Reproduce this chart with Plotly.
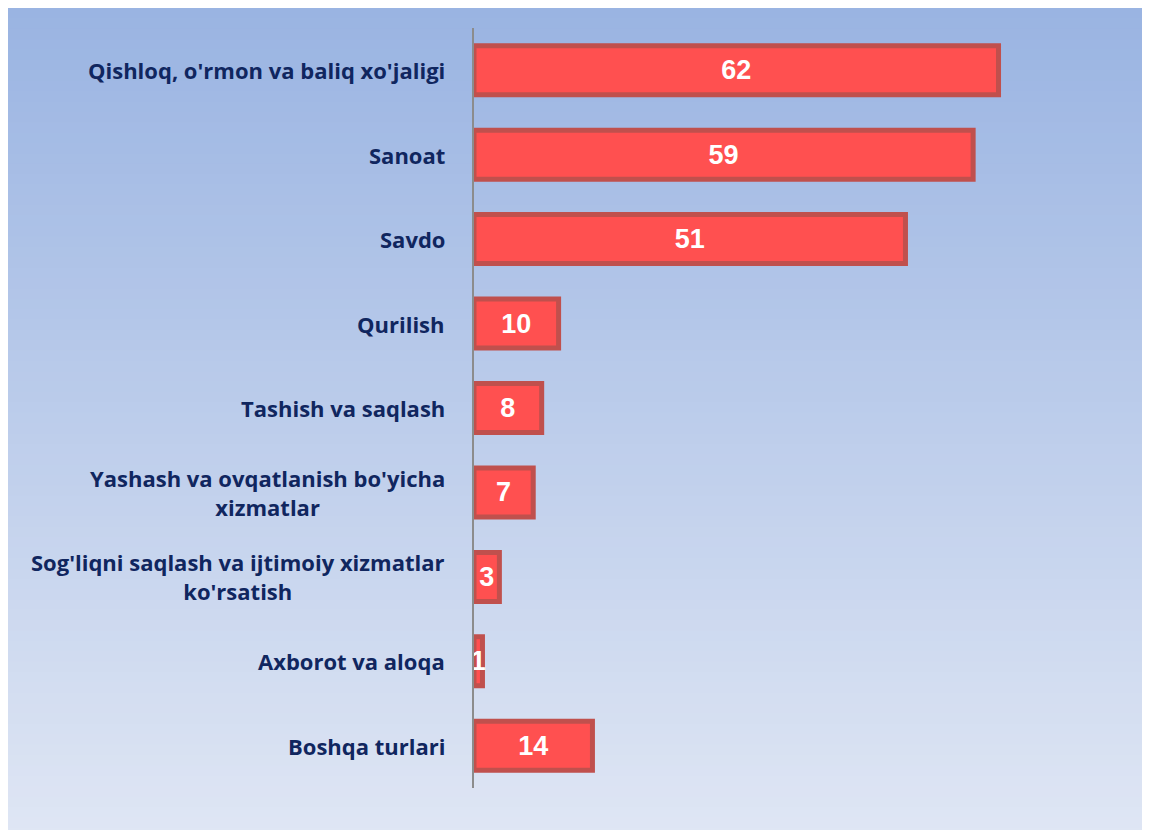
import plotly.graph_objects as go

# Tarmoqlar va qiymatlar (yuqoridan pastga)
categories = [
    "Qishloq, o'rmon va baliq xo'jaligi",
    "Sanoat",
    "Savdo",
    "Qurilish",
    "Tashish va saqlash",
    "Yashash va ovqatlanish bo'yicha<br>xizmatlar",
    "Sog'liqni saqlash va ijtimoiy xizmatlar<br>ko'rsatish",
    "Axborot va aloqa",
    "Boshqa turlari",
]
values = [62, 59, 51, 10, 8, 7, 3, 1, 14]

W, H = 1150, 830
ML, MR, MT, MB = 466, 24, 20, 50
PW, PH = W - ML - MR, H - MT - MB

fig = go.Figure()

fig.add_trace(go.Bar(
    x=values, y=list(range(len(categories))),
    orientation="h", width=0.58,
    marker=dict(color="#ff5050", line=dict(color="#c0504d", width=5)),
    text=values, texttemplate="<b>%{x}</b>", textposition="inside",
    insidetextanchor="middle", textangle=0,
    textfont=dict(family="Liberation Sans", size=27, color="white"),
    hoverinfo="skip", showlegend=False,
))

# Gradient fon: yuqoridan (ko'k) pastga (och) — ingichka bo'laklar
top = (154, 180, 226)
bot = (223, 230, 244)
n = 80
shapes = []
for i in range(n):
    t = i / (n - 1)
    c = tuple(round(a + (b - a) * t) for a, b in zip(top, bot))
    ya = H * i / n
    yb = H * (i + 1) / n + 1
    shapes.append(dict(
        type="rect", xref="paper", yref="paper", layer="below",
        x0=-ML / PW, x1=(W - ML) / PW,
        y0=(H - MB - yb) / PH, y1=(H - MB - ya) / PH,
        fillcolor=f"rgb{c}", line=dict(width=0),
    ))

# Kategoriya yozuvlari markazlashgan holda
annotations = [
    dict(x=0, y=i, xref="x", yref="y", text=f"<b>{c}</b>", showarrow=False,
         xanchor="right", yanchor="middle", xshift=-27, align="center",
         font=dict(family="Open Sans", size=22, color="#10265f"))
    for i, c in enumerate(categories)
]

fig.update_layout(
    width=W, height=H,
    margin=dict(l=ML, r=MR, t=MT, b=MB),
    paper_bgcolor="white", plot_bgcolor="rgba(0,0,0,0)",
    shapes=shapes, annotations=annotations,
    uniformtext=dict(minsize=27, mode="show"),
)
fig.update_xaxes(range=[0, PW / 8.46], visible=False, fixedrange=True)
fig.update_yaxes(range=[len(categories) - 0.5, -0.5], showticklabels=False,
                 showgrid=False, zeroline=False, showline=True,
                 linecolor="#8c8c8c", linewidth=1.5, ticks="")

fig.write_html("out.html",
               post_script="document.body.style.overflow = 'hidden';")
